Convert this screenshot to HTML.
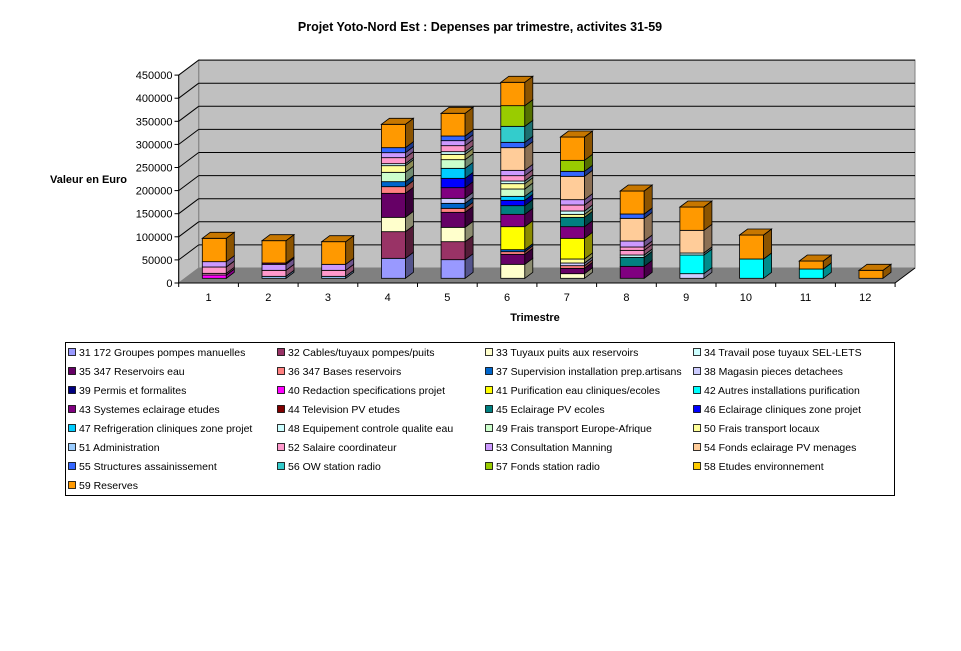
<!DOCTYPE html>
<html><head><meta charset="utf-8"><style>
html,body{margin:0;padding:0;background:#fff;}
svg{display:block;font-family:"Liberation Sans",Arial,sans-serif;}
</style></head><body>
<svg id="s" width="961" height="651" viewBox="0 0 961 651" xmlns="http://www.w3.org/2000/svg">
<text x="480" y="31" text-anchor="middle" font-size="12.5" font-weight="bold">Projet Yoto-Nord Est : Depenses par trimestre, activites 31-59</text>
<text x="50" y="183" font-size="11" font-weight="bold">Valeur en Euro</text>
<text x="535" y="321" text-anchor="middle" font-size="11" font-weight="bold">Trimestre</text>
<polygon points="198.7,60 915,60 915,268 198.7,268" fill="#c0c0c0" stroke="#808080" stroke-width="1"/>
<polygon points="178.7,75 198.7,60 198.7,268 178.7,283" fill="#c0c0c0" stroke="#808080" stroke-width="1"/>
<polygon points="178.7,283 198.7,268 915,268 895,283" fill="#808080"/>
<g id="grid"></g>
<g id="bars"></g>
<g id="leg"></g>
</svg>
<script>
(function(){
var NS="http://www.w3.org/2000/svg",s=document.getElementById('s');
function el(t,a,p,txt){var e=document.createElementNS(NS,t);for(var k in a)e.setAttribute(k,a[k]);if(txt!=null)e.textContent=txt;(p||s).appendChild(e);return e;}
var g=document.getElementById('grid');
for(var k=0;k<=9;k++){
 var yb=268-23.1*k, yf=283-23.1*k;
 if(k>0) el('line',{x1:198.7,y1:yb,x2:915,y2:yb,stroke:'#000','stroke-width':1},g);
 if(k>0) el('line',{x1:178.7,y1:yf,x2:198.7,y2:yb,stroke:'#000','stroke-width':1},g);
 el('line',{x1:174.5,y1:yf,x2:178.7,y2:yf,stroke:'#000','stroke-width':1},g);
 el('text',{x:172.5,y:yf+4,'text-anchor':'end','font-size':11},g,String(k*50000));
}
el('line',{x1:178.7,y1:75,x2:178.7,y2:283,stroke:'#000','stroke-width':1},g);
el('line',{x1:178.7,y1:283,x2:895,y2:283,stroke:'#000','stroke-width':1},g);
el('line',{x1:895,y1:283,x2:915,y2:268,stroke:'#000','stroke-width':1},g);
for(var k=0;k<=12;k++){var x=178.7+59.7*k;el('line',{x1:x,y1:283,x2:x,y2:287,stroke:'#000'},g);
 if(k<12) el('text',{x:x+29.85,y:301,'text-anchor':'middle','font-size':11},g,String(k+1));}
var C={c31:'#9999ff',c32:'#993366',c33:'#ffffcc',c35:'#660066',c36:'#ff8080',c37:'#0066cc',c38:'#ccccff',c40:'#ff00ff',c41:'#ffff00',c42:'#00ffff',c43:'#800080',c44:'#800000',c45:'#008080',c46:'#0000ff',c47:'#00ccff',c48:'#ccffff',c49:'#ccffcc',c50:'#ffff99',c51:'#99ccff',c52:'#ff99cc',c53:'#cc99ff',c54:'#ffcc99',c55:'#3366ff',c56:'#33cccc',c57:'#99cc00',c58:'#ffcc00',c59:'#ff9900'};
var B=[
[[660,'c40'],[655,'c52'],[636,'c52'],[620,'c53'],[550,'c59']],
[[664,'c51'],[646,'c52'],[628,'c53'],[624,'c35'],[557,'c59']],
[[664,'c51'],[646,'c52'],[628,'c53'],[560,'c59']],
[[610,'c31'],[530,'c32'],[487,'c33'],[415,'c35'],[395,'c36'],[380,'c37'],[352,'c49'],[332,'c50'],[326,'c48'],[308,'c52'],[293,'c53'],[278,'c55'],[208,'c59']],
[[614,'c31'],[560,'c32'],[517,'c33'],[472,'c35'],[460,'c36'],[445,'c37'],[430,'c38'],[398,'c43'],[370,'c46'],[340,'c47'],[314,'c49'],[298,'c50'],[290,'c48'],[272,'c52'],[257,'c53'],[243,'c55'],[175,'c59']],
[[628,'c33'],[598,'c35'],[590,'c36'],[584,'c37'],[515,'c41'],[478,'c43'],[452,'c45'],[436,'c46'],[424,'c47'],[402,'c49'],[386,'c50'],[378,'c48'],[362,'c52'],[346,'c53'],[278,'c54'],[262,'c55'],[214,'c56'],[152,'c57'],[82,'c59']],
[[656,'c33'],[640,'c35'],[632,'c36'],[624,'c38'],[612,'c50'],[550,'c41'],[515,'c43'],[487,'c45'],[478,'c50'],[468,'c48'],[450,'c52'],[434,'c53'],[364,'c54'],[349,'c55'],[316,'c57'],[246,'c59']],
[[634,'c43'],[607,'c45'],[600,'c48'],[586,'c52'],[576,'c52'],[558,'c53'],[490,'c54'],[477,'c55'],[408,'c59']],
[[656,'c38'],[600,'c42'],[594,'c48'],[526,'c54'],[456,'c59']],
[[612,'c42'],[540,'c59']],
[[642,'c42'],[618,'c59']],
[[646,'c59']]];
function sh(h,f){var r=parseInt(h.substr(1,2),16),gg=parseInt(h.substr(3,2),16),b=parseInt(h.substr(5,2),16);return 'rgb('+Math.round(r*f)+','+Math.round(gg*f)+','+Math.round(b*f)+')';}
var bg=document.getElementById('bars'),W=24,DX=8,DY=6;
for(var i=0;i<12;i++){
 var x=202.3+59.7*i,prev=278.3,segs=B[i];
 for(var j=0;j<segs.length;j++){
  var tp=55+segs[j][0]/3,col=C[segs[j][1]];
  el('rect',{x:x,y:tp,width:W,height:prev-tp,fill:col,stroke:'#000','stroke-width':0.8},bg);
  el('polygon',{points:[x+W,prev,x+W+DX,prev-DY,x+W+DX,tp-DY,x+W,tp].join(','),fill:sh(col,0.55),stroke:'#000','stroke-width':0.8},bg);
  if(j==segs.length-1) el('polygon',{points:[x,tp,x+DX,tp-DY,x+W+DX,tp-DY,x+W,tp].join(','),fill:sh(col,0.78),stroke:'#000','stroke-width':0.8},bg);
  prev=tp;
 }
}
var L=[['31 172 Groupes pompes manuelles','c31'],['32 Cables/tuyaux pompes/puits','c32'],['33 Tuyaux puits aux reservoirs','c33'],['34 Travail pose tuyaux SEL-LETS','c48'],
['35 347 Reservoirs eau','c35'],['36 347 Bases reservoirs','c36'],['37 Supervision installation prep.artisans','c37'],['38 Magasin pieces detachees','c38'],
['39 Permis et formalites','#000080'],['40 Redaction specifications projet','c40'],['41 Purification eau cliniques/ecoles','c41'],['42 Autres installations purification','c42'],
['43 Systemes eclairage etudes','c43'],['44 Television PV etudes','c44'],['45 Eclairage PV ecoles','c45'],['46 Eclairage cliniques zone projet','c46'],
['47 Refrigeration cliniques zone projet','c47'],['48 Equipement controle qualite eau','c48'],['49 Frais transport Europe-Afrique','c49'],['50 Frais transport locaux','c50'],
['51 Administration','c51'],['52 Salaire coordinateur','c52'],['53 Consultation Manning','c53'],['54 Fonds eclairage PV menages','c54'],
['55 Structures assainissement','c55'],['56 OW station radio','c56'],['57 Fonds station radio','c57'],['58 Etudes environnement','c58'],
['59 Reserves','c59']];
var lg=document.getElementById('leg');
el('rect',{x:65.5,y:342.5,width:829,height:153,fill:'#fff',stroke:'#000','stroke-width':1},lg);
var cx=[68,277,485,693];
for(var i=0;i<L.length;i++){var r=Math.floor(i/4),c=i%4,y=352+19*r,col=L[i][1];col=col[0]=='#'?col:C[col];
 el('rect',{x:cx[c]+0.5,y:y-3.5,width:7,height:7,fill:col,stroke:'#000','stroke-width':0.8},lg);
 el('text',{x:cx[c]+11,y:y+4,'font-size':10.5},lg,L[i][0]);}
})();
</script>
</body></html>
